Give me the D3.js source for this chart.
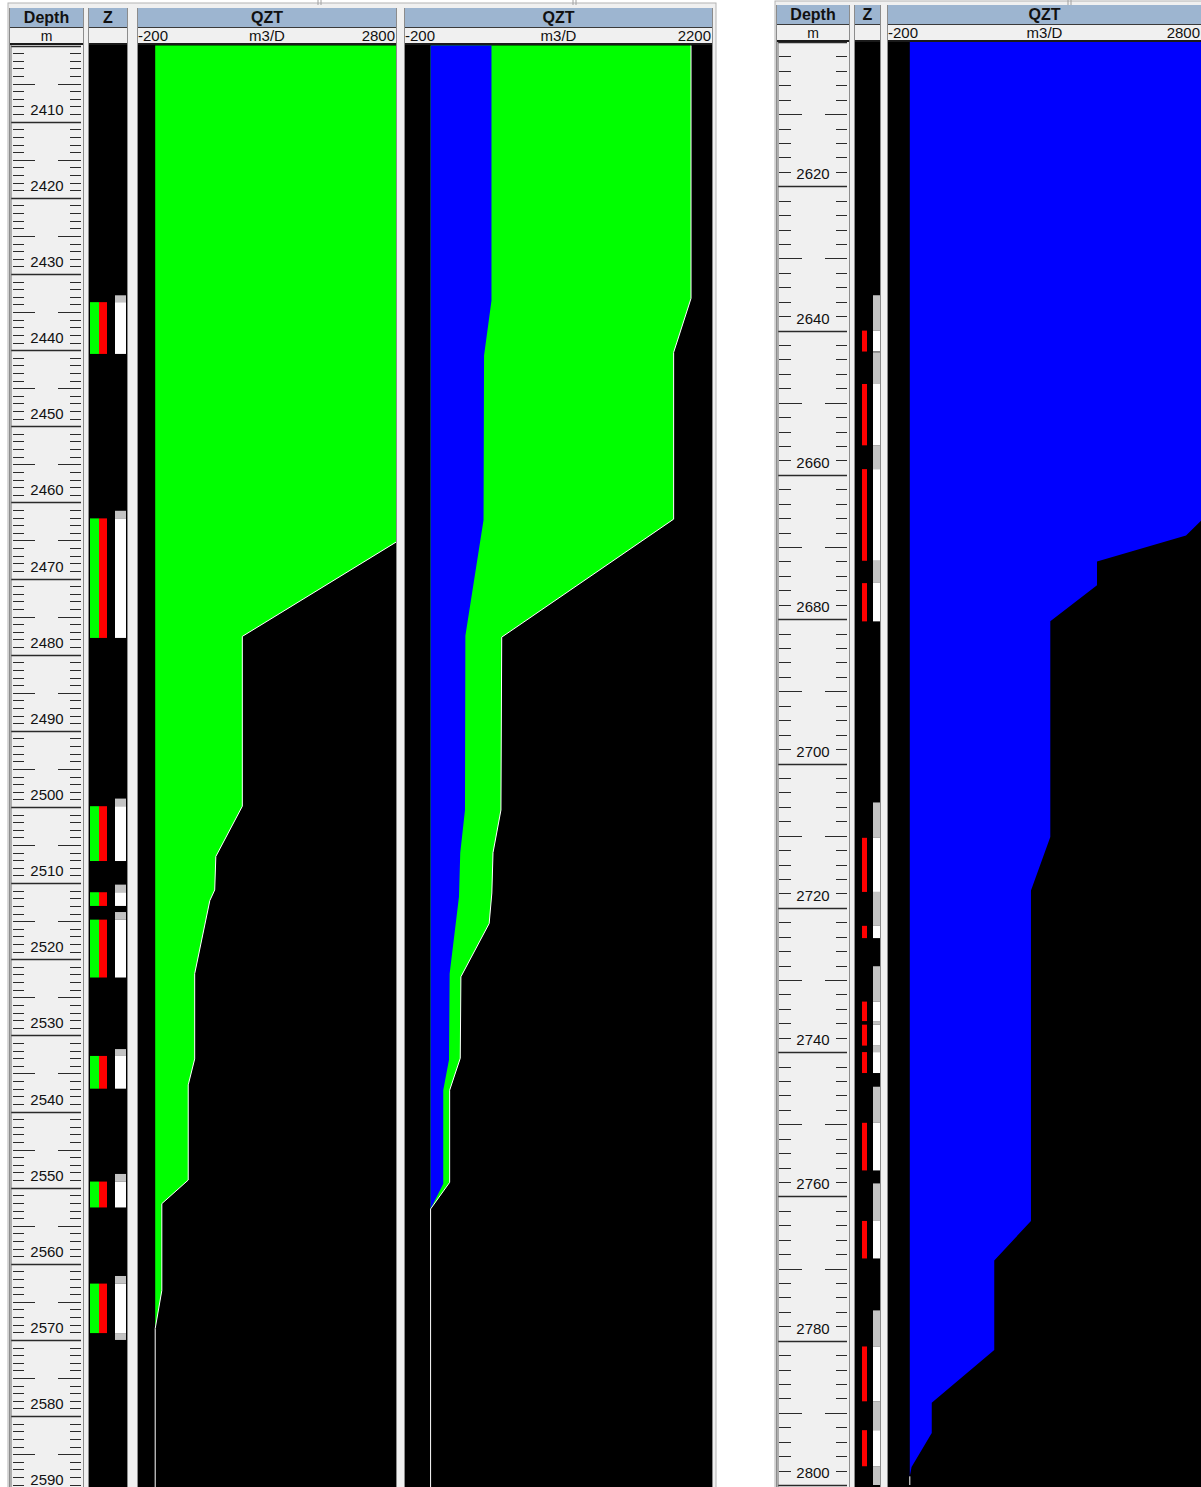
<!DOCTYPE html>
<html>
<head>
<meta charset="utf-8">
<script src="https://cdn.jsdelivr.net/npm/d3@7/dist/d3.min.js"></script>
<style>
body { margin: 0; background: #fff; }
svg { display: block; font-family: "Liberation Sans", Arial, sans-serif; }
</style>
</head>
<body>
<svg id="chart"></svg>
<script>
// Depth windows of the two panels (m)
const depthLeft = [2400, 2590];
const depthRight = [2600, 2800];

// Z track, left panel: perforated zones (green/red), layer flags (white), layer tops (gray)
const zonesLeft = [[2433.7, 2440.5], [2462.1, 2477.8], [2499.9, 2507.1], [2511.2, 2513.0],
    [2514.8, 2522.4], [2532.7, 2537.0], [2549.2, 2552.6], [2562.6, 2569.1]];
const whiteLeft = zonesLeft;
const grayLeft = [[2432.8, 2433.7], [2461.1, 2462.1], [2498.9, 2499.9], [2510.2, 2511.2],
    [2513.8, 2514.8], [2531.8, 2532.7], [2548.2, 2549.2], [2561.6, 2562.6], [2569.1, 2570.0]];

// Z track, right panel
const zonesRight = [[2640.0, 2642.9], [2647.4, 2655.9], [2659.2, 2671.9], [2675.0, 2680.3],
    [2710.3, 2717.8], [2722.5, 2724.2], [2733.0, 2735.7], [2736.2, 2739.1], [2740.0, 2742.9],
    [2749.8, 2756.4], [2763.4, 2768.6], [2780.8, 2788.4], [2792.4, 2797.4]];
const whiteRight = [[2640.0, 2642.9], [2647.4, 2655.9], [2659.2, 2671.9], [2674.9, 2680.3],
    [2710.3, 2717.8], [2722.5, 2724.2], [2733.0, 2735.7], [2736.2, 2739.1], [2740.0, 2742.9],
    [2749.8, 2756.4], [2763.4, 2768.6], [2780.8, 2788.4], [2792.4, 2797.4]];
const grayRight = [[2635.1, 2640.0], [2643.0, 2647.4], [2655.9, 2659.2], [2669.3, 2669.5],
    [2671.9, 2674.9], [2705.4, 2710.3], [2717.8, 2722.5], [2728.1, 2733.0], [2735.7, 2736.2],
    [2739.1, 2740.0], [2744.8, 2749.8], [2758.2, 2763.4], [2775.8, 2780.8], [2788.4, 2792.4],
    [2797.4, 2800.0]];

// QZT profiles (m3/D) : [depth, value]
const qzt1 = [[2400, 3250], [2462.1, 3250], [2477.6, 1013], [2499.9, 1013], [2506.5, 705],
    [2510.9, 692], [2512.3, 635], [2521.9, 459], [2533.1, 459], [2536.5, 384], [2549.0, 384],
    [2552.1, 77], [2563.5, 77], [2568.5, 0], [2590, 0]];
const qzt2Total = [[2400, 2036], [2433.2, 2036], [2440.3, 1900], [2462.2, 1900], [2477.7, 556],
    [2500.4, 550], [2506.0, 488], [2511.3, 479], [2515.3, 458], [2522.3, 237], [2533.0, 232],
    [2537.2, 149], [2549.3, 149], [2552.8, 0], [2590, 0]];
const qzt2Blue = [[2400, 476], [2433.5, 476], [2440.7, 418], [2462.3, 414], [2477.5, 272],
    [2500.4, 269], [2506.0, 232], [2511.8, 222], [2521.9, 149], [2533.2, 144], [2537.2, 99],
    [2549.5, 99], [2552.8, 0], [2590, 0]];
const qzt3 = [[2600, 3300], [2659.2, 3300], [2668.4, 2656], [2672.0, 1800], [2675.3, 1800],
    [2680.3, 1351], [2710.2, 1351], [2717.6, 1165], [2763.4, 1165], [2768.9, 812], [2781.3, 812],
    [2788.6, 211], [2792.8, 211], [2797.5, 17], [2798.8, 0], [2800, 0]];

const scale1 = [-200, 2800];
const scale2 = [-200, 2200];
const scale3 = [-200, 2800];

const width = 1201;
const height = 1487;

const svg = d3.select("#chart")
    .attr("width", width)
    .attr("height", height);

const headBlue = "#9db5d0";
const panelGray = "#f0f0f0";

const yL = d3.scaleLinear().domain(depthLeft).range([45.56, 45.56 + 190 * 7.614]);
const yR = d3.scaleLinear().domain(depthRight).range([42, 42 + 200 * 7.215]);

// panel backgrounds
svg.append("rect").attr("x", 8).attr("y", 3).attr("width", 708).attr("height", height)
    .attr("fill", panelGray).attr("stroke", "#b4b4b4");
svg.append("rect").attr("x", 775).attr("y", 1).attr("width", 430).attr("height", height)
    .attr("fill", panelGray).attr("stroke", "#b4b4b4");

// small splitter marks at the top
[318, 573, 1068].forEach(x => {
    svg.append("line").attr("x1", x).attr("x2", x).attr("y1", 0).attr("y2", 5)
        .attr("stroke", "#a0a0a0");
    svg.append("line").attr("x1", x + 3).attr("x2", x + 3).attr("y1", 0).attr("y2", 5)
        .attr("stroke", "#a0a0a0");
});

let clipId = 0;

function header(x0, x1, top, title, units) {
    const g = svg.append("g");
    g.append("rect").attr("x", x0).attr("y", top).attr("width", x1 - x0).attr("height", 19)
        .attr("fill", headBlue);
    g.append("line").attr("x1", x0).attr("x2", x1).attr("y1", top + 19.5).attr("y2", top + 19.5)
        .attr("stroke", "#3a3a3a");
    g.append("rect").attr("x", x0).attr("y", top + 20).attr("width", x1 - x0).attr("height", 15)
        .attr("fill", panelGray);
    g.append("line").attr("x1", x0).attr("x2", x1).attr("y1", top + 36).attr("y2", top + 36)
        .attr("stroke", "#1a1a1a").attr("stroke-width", 2);
    g.append("text").attr("x", (x0 + x1) / 2).attr("y", top + 14.5)
        .attr("text-anchor", "middle").attr("font-size", 16).attr("font-weight", "bold")
        .attr("fill", "#111").text(title);
    if (typeof units === "string") {
        if (units) {
            g.append("text").attr("x", (x0 + x1) / 2).attr("y", top + 32.5)
                .attr("text-anchor", "middle").attr("font-size", 14).attr("fill", "#111").text(units);
        }
    } else if (units) {
        g.append("text").attr("x", x0).attr("y", top + 32.5).attr("font-size", 15)
            .attr("fill", "#111").text(units[0]);
        g.append("text").attr("x", (x0 + x1) / 2).attr("y", top + 32.5).attr("text-anchor", "middle")
            .attr("font-size", 15).attr("fill", "#111").text(units[1]);
        g.append("text").attr("x", x1 - 1).attr("y", top + 32.5).attr("text-anchor", "end")
            .attr("font-size", 15).attr("fill", "#111").text(units[2]);
    }
    // side borders
    g.append("line").attr("x1", x0 - 0.5).attr("x2", x0 - 0.5).attr("y1", top).attr("y2", height)
        .attr("stroke", "#8c8c8c");
    g.append("line").attr("x1", x1 + 0.5).attr("x2", x1 + 0.5).attr("y1", top).attr("y2", height)
        .attr("stroke", "#8c8c8c");
}

function dataArea(x0, x1, top, fill) {
    const id = "clip" + (clipId++);
    svg.append("clipPath").attr("id", id)
        .append("rect").attr("x", x0).attr("y", top).attr("width", x1 - x0).attr("height", height - top);
    const g = svg.append("g").attr("clip-path", `url(#${id})`);
    g.append("rect").attr("x", x0).attr("y", top).attr("width", x1 - x0).attr("height", height - top)
        .attr("fill", fill);
    return g;
}

// ---------- depth tracks ----------
function depthTrack(x0, x1, top, y, step, half, full, t) {
    header(x0, x1, top, "Depth", "m");
    const dataTop = top + 37;
    const g = dataArea(x0, x1, dataTop, panelGray);
    const [d0, d1] = y.domain();
    const ticks = d3.range(d0, d1 + 0.001, step);
    ticks.forEach(d => {
        const yy = Math.round(y(d)) + 0.5;
        if (Math.round(d) % full === 0) {
            g.append("line").attr("x1", t.full[0]).attr("x2", t.full[1]).attr("y1", yy).attr("y2", yy)
                .attr("stroke", "#2a2a2a").attr("stroke-width", 1.6);
            // no label when it would sit in the header
            if (yy - 20 > dataTop) {
                g.append("text").attr("x", t.label).attr("y", yy - 7.5).attr("text-anchor", "middle")
                    .attr("font-size", 15).attr("fill", "#111").text(d);
            }
        } else {
            const isHalf = Math.round(d) % half === 0;
            const l = isHalf ? t.halfL : t.minL;
            const r = isHalf ? t.halfR : t.minR;
            g.append("line").attr("x1", l[0]).attr("x2", l[1]).attr("y1", yy).attr("y2", yy)
                .attr("stroke", "#2a2a2a");
            g.append("line").attr("x1", r[0]).attr("x2", r[1]).attr("y1", yy).attr("y2", yy)
                .attr("stroke", "#2a2a2a");
        }
    });
    g.append("line").attr("x1", x0 + 1).attr("x2", x0 + 1).attr("y1", dataTop).attr("y2", height)
        .attr("stroke", "#6a6a6a");
}

depthTrack(10, 83, 8, yL, 1, 5, 10, {
    full: [11, 81], minL: [13, 24], minR: [70, 81], halfL: [13, 35], halfR: [58, 81], label: 47
});
depthTrack(777, 849, 5, yR, 2, 10, 20, {
    full: [778, 847], minL: [779, 791], minR: [836, 847], halfL: [779, 802], halfR: [825, 847], label: 813
});

// ---------- Z tracks ----------
function zTrack(x0, x1, top, y, zones, whites, grays, cols) {
    header(x0, x1, top, "Z", "");
    const g = dataArea(x0, x1, top + 37, "#000");
    g.selectAll(".gray").data(grays).join("rect")
        .attr("x", cols.flag[0]).attr("width", cols.flag[1] - cols.flag[0])
        .attr("y", d => y(d[0])).attr("height", d => Math.max(1, y(d[1]) - y(d[0])))
        .attr("fill", "#c3c3c3");
    g.selectAll(".white").data(whites).join("rect")
        .attr("x", cols.flag[0]).attr("width", cols.flag[1] - cols.flag[0])
        .attr("y", d => y(d[0])).attr("height", d => Math.max(1, y(d[1]) - y(d[0])))
        .attr("fill", "#fff");
    if (cols.green) {
        g.selectAll(".green").data(zones).join("rect")
            .attr("x", cols.green[0]).attr("width", cols.green[1] - cols.green[0])
            .attr("y", d => y(d[0])).attr("height", d => y(d[1]) - y(d[0]))
            .attr("fill", "#00ff00");
    }
    g.selectAll(".red").data(zones).join("rect")
        .attr("x", cols.red[0]).attr("width", cols.red[1] - cols.red[0])
        .attr("y", d => y(d[0])).attr("height", d => y(d[1]) - y(d[0]))
        .attr("fill", "#ff0000");
}

zTrack(89, 127, 8, yL, zonesLeft, whiteLeft, grayLeft,
    { green: [90, 99], red: [99, 107], flag: [115, 126] });
zTrack(855, 880, 5, yR, zonesRight, whiteRight, grayRight,
    { red: [862, 867], flag: [873, 880] });

// ---------- QZT tracks ----------
function qztTrack(x0, x1, top, domain, range) {
    header(x0, x1, top, "QZT", [domain[0], "m3/D", domain[1]]);
    const g = dataArea(x0, x1, top + 37, "#000");
    const x = d3.scaleLinear().domain(domain).range(range);
    return { g, x };
}

function areaOf(x, y) {
    return d3.area().y(d => y(d[0])).x0(x(0)).x1(d => x(d[1]));
}
function lineOf(x, y) {
    return d3.line().y(d => y(d[0])).x(d => x(d[1]));
}

const t1 = qztTrack(138, 396, 8, scale1, [138, 396]);
t1.g.append("path").datum(qzt1).attr("d", areaOf(t1.x, yL)).attr("fill", "#00ff00");
t1.g.append("path").datum(qzt1).attr("d", lineOf(t1.x, yL))
    .attr("fill", "none").attr("stroke", "#fff").attr("stroke-width", 1);

const t2 = qztTrack(405, 712, 8, scale2, [405, 712]);
t2.g.append("path").datum(qzt2Total).attr("d", areaOf(t2.x, yL)).attr("fill", "#00ff00");
t2.g.append("path").datum(qzt2Blue).attr("d", areaOf(t2.x, yL)).attr("fill", "#0000ff");
t2.g.append("path").datum(qzt2Total).attr("d", lineOf(t2.x, yL))
    .attr("fill", "none").attr("stroke", "#fff").attr("stroke-width", 1);

const t3 = qztTrack(888, 1201, 5, scale3, [889, 1201]);
t3.g.append("path").datum(qzt3).attr("d", areaOf(t3.x, yR)).attr("fill", "#0000ff");
t3.g.append("path").datum(qzt3.filter(d => d[1] === 0)).attr("d", lineOf(t3.x, yR))
    .attr("fill", "none").attr("stroke", "#fff").attr("stroke-width", 1);
</script>
</body>
</html>
